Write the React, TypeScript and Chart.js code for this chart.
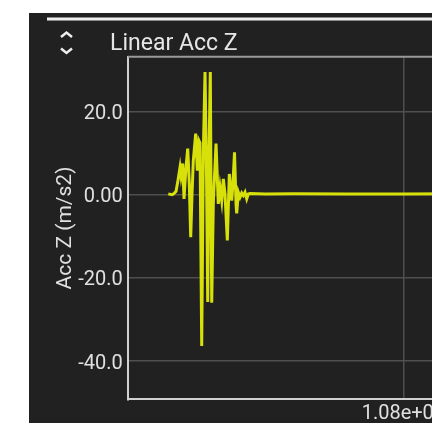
import { useEffect, useRef } from "react";
import { Chart, registerables } from "chart.js";

Chart.register(...registerables);

const chartTitle = "Linear Acc Z";
const yAxisTitle = "Acc Z (m/s2)";

// sample time (arbitrary units on the x scale) and linear acceleration Z (m/s2)
const sampleTimes = [
  14.73, 16.07, 16.8, 17.53, 18.25, 18.98, 19.34, 19.96, 20.43, 21.05, 21.77, 22.35, 22.86,
  23.33, 23.8, 24.67, 25.25, 25.87, 26.23, 26.85, 27.43, 28.05, 28.59, 29.03, 29.5, 29.97,
  30.48, 31.06, 32.04, 32.87, 33.49, 34.11, 34.69, 35.3, 36.14, 36.87, 37.74, 38.21, 38.75,
  39.3, 39.55, 40.13, 40.75, 41.36, 41.94, 42.56, 43.18, 43.76, 44.38, 50, 60, 80, 100, 120,
  140, 160, 180, 200,
];
const accZ = [
  0.2, 0.0, 0.3, 0.8, 3.5, 6.6, 4.6, 7.5, -1.0, 5.8, 11.1, 2.6, -10.2,
  0.0, 8.2, 14.7, 5.8, 13.0, 12.5, -36.4, 10.0, 29.5, 5.0, -25.8, 10.0, 29.5,
  -26.0, -2.0, 12.3, -2.2, 1.8, -1.4, 3.8, 0.2, -11.0, 5.0, -1.4, 3.0, 10.2,
  -2.2, -4.5, 0.6, -0.6, 0.4, -0.2, 0.6, -1.0, 0.2, 0.3, 0.2, 0.25, 0.2, 0.2, 0.25,
  0.2, 0.2, 0.2, 0.2,
];

const yTickValues = [-40, -20, 0, 20];
const yTickLabels = ["-40.0", "-20.0", "0.00", "20.0"];
const xTickValues = [100];
const xTickLabels = ["1.08e+09"];

export default function App() {
  const ref = useRef<HTMLCanvasElement>(null);

  useEffect(() => {
    const canvas = ref.current;
    if (!canvas) return;
    const topBorder = {
      id: "topBorder",
      afterDraw(chart: any) {
        const { ctx, chartArea } = chart;
        ctx.save();
        ctx.strokeStyle = "#9a9a9a";
        ctx.lineWidth = 2;
        ctx.beginPath();
        ctx.moveTo(chartArea.left, chartArea.top);
        ctx.lineTo(chartArea.right, chartArea.top);
        ctx.stroke();
        ctx.restore();
      },
    };
    const chart = new Chart(canvas, {
      type: "line",
      data: {
        datasets: [
          {
            data: sampleTimes.map((t, i) => ({ x: t, y: accZ[i] })),
            borderColor: "#d8e00a",
            borderWidth: 3,
            pointRadius: 0,
            tension: 0,
            fill: false,
          },
        ],
      },
      options: {
        animation: false,
        responsive: false,
        layout: { padding: { top: 43.7, right: 20, bottom: 0, left: 0 } },
        plugins: { legend: { display: false }, tooltip: { enabled: false } },
        scales: {
          x: {
            type: "linear",
            min: 0,
            max: 200,
            afterBuildTicks: (s: any) => {
              s.ticks = xTickValues.map((v) => ({ value: v }));
            },
            afterFit: (s: any) => {
              s.height = 53.7;
            },
            ticks: {
              callback: (_v: any, i: number) => xTickLabels[i] ?? "",
              color: "#e0e0e0",
              font: { family: "Roboto", size: 20 },
              padding: 3,
              maxRotation: 0,
              autoSkip: false,
            },
            grid: { color: "#4f4f4f", lineWidth: 1.5, drawTicks: false },
            border: { display: true, color: "#d0d0d0", width: 2 },
          },
          y: {
            type: "linear",
            min: -49.2,
            max: 33.2,
            afterBuildTicks: (s: any) => {
              s.ticks = yTickValues.map((v) => ({ value: v }));
            },
            afterFit: (s: any) => {
              s.width = 98.7;
            },
            ticks: {
              callback: (_v: any, i: number) => yTickLabels[i] ?? "",
              color: "#e0e0e0",
              font: { family: "Roboto", size: 20 },
              padding: 5,
              labelOffset: 2.5,
              autoSkip: false,
            },
            title: {
              display: true,
              text: yAxisTitle,
              color: "#e0e0e0",
              font: { family: "Roboto", size: 21 },
              padding: { top: 24, bottom: 0 },
            },
            grid: { color: "#4f4f4f", lineWidth: 1.5, drawTicks: false },
            border: { display: true, color: "#d0d0d0", width: 2 },
          },
        },
      },
      plugins: [topBorder],
    } as any);
    return () => chart.destroy();
  }, []);

  return (
    <div
      style={{
        position: "fixed",
        left: 0,
        top: 0,
        width: 432,
        height: 423,
        overflow: "hidden",
        background: "#ffffff",
      }}
    >
      <div
        style={{
          position: "absolute",
          left: 29,
          top: 13,
          width: 700,
          height: 500,
          background: "#212121",
        }}
      >
        <canvas
          ref={ref}
          width={670}
          height={440}
          style={{ position: "absolute", left: 0, top: 0, width: 670, height: 440 }}
        />
      </div>
      <div
        style={{
          position: "absolute",
          left: 47,
          top: 17,
          width: 700,
          height: 4,
          background: "linear-gradient(#8a8a8a 0 1px, #eeeeee 1px 3px, #8a8a8a 3px 4px)",
        }}
      />
      <svg
        width={20}
        height={30}
        style={{ position: "absolute", left: 56, top: 28 }}
        viewBox="0 0 20 30"
      >
        <polyline points="5,9 10.5,4.5 16,9" fill="none" stroke="#eeeeee" strokeWidth={2.5} />
        <polyline points="5,20.5 10.5,25 16,20.5" fill="none" stroke="#eeeeee" strokeWidth={2.5} />
      </svg>
      <div
        style={{
          position: "absolute",
          left: 110,
          top: 30.6,
          fontFamily: "Roboto",
          fontSize: 23,
          lineHeight: 1,
          color: "#e6e6e6",
          whiteSpace: "nowrap",
        }}
      >
        {chartTitle}
      </div>
    </div>
  );
}
